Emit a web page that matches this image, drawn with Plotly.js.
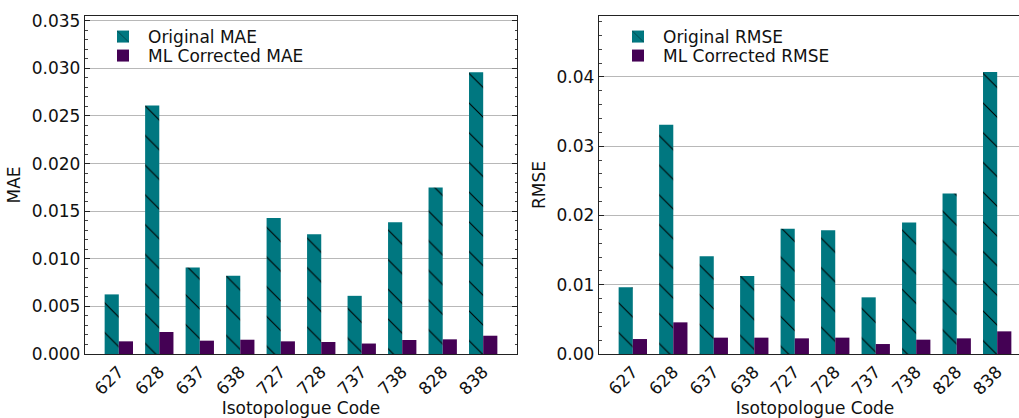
<!DOCTYPE html>
<html>
<head>
<meta charset="utf-8">
<script src="https://cdn.plot.ly/plotly-3.0.1.min.js"></script>
<style>html,body{margin:0;padding:0;overflow:hidden;background:#fff;}#chart{width:1040px;height:418px;}</style>
</head>
<body>
<div id="chart"></div>
<script>
const codes = ['627','628','637','638','727','728','737','738','828','838'];
const originalMAE  = [0.00626, 0.0261, 0.00909, 0.00821, 0.01429, 0.01258, 0.00611, 0.01384, 0.0175, 0.02958];
const correctedMAE = [0.00133, 0.00231, 0.00140, 0.00150, 0.00133, 0.00126, 0.00110, 0.00147, 0.00154, 0.00192];
const originalRMSE  = [0.00962, 0.03309, 0.0141, 0.01126, 0.01808, 0.01785, 0.00818, 0.0190, 0.02319, 0.0407];
const correctedRMSE = [0.00216, 0.00457, 0.00236, 0.00236, 0.00226, 0.00236, 0.00144, 0.00207, 0.00226, 0.00327];

const TEAL = '#007780', PURPLE = '#440154';
const FONT = 'DejaVu Sans, sans-serif';
const FS = 17;
const W = 1040, H = 418;
const hatch = {shape: '\\', fgcolor: '#000', bgcolor: TEAL, size: 21, solidity: 0.05, fillmode:'replace'};

const traces = [
  {type:'bar', x: codes, y: originalMAE, name:'Original MAE', xaxis:'x', yaxis:'y', legend:'legend',
   marker:{color:TEAL, pattern:hatch, line:{width:0}}},
  {type:'bar', x: codes, y: correctedMAE, name:'ML Corrected MAE', xaxis:'x', yaxis:'y', legend:'legend3',
   marker:{color:PURPLE, line:{width:0}}},
  {type:'bar', x: codes, y: originalRMSE, name:'Original RMSE', xaxis:'x2', yaxis:'y2', legend:'legend2',
   marker:{color:TEAL, pattern:hatch, line:{width:0}}},
  {type:'bar', x: codes, y: correctedRMSE, name:'ML Corrected RMSE', xaxis:'x2', yaxis:'y2', legend:'legend4',
   marker:{color:PURPLE, line:{width:0}}}
];

function xax(domain, anchor){
  return {domain: domain, anchor: anchor, type:'category', range:[-0.835, 9.835],
    showline:true, mirror:true, linecolor:'#222', linewidth:1.2, ticks:'', showgrid:false,
    tickangle:-45, tickfont:{family:FONT, size:FS, color:'#111'},
    title:{text:'Isotopologue Code', font:{family:FONT, size:FS, color:'#111'}, standoff:2},
    layer:'above traces', automargin:false};
}
function yax(domain, anchor, range, dtick, minor, fmt, title){
  return {domain: domain, anchor: anchor, range: range, dtick: dtick, tick0:0, tickformat: fmt,
    showline:true, mirror:'allticks', linecolor:'#222', linewidth:1.2,
    ticks:'inside', ticklen:5, tickcolor:'#222', tickwidth:1,
    minor:{dtick:minor, ticks:'inside', ticklen:2.5, tickcolor:'#444', showgrid:false},
    showgrid:true, gridcolor:'#b8b8b8', gridwidth:1, zeroline:false,
    tickfont:{family:FONT, size:FS, color:'#111'},
    title:{text:title, font:{family:FONT, size:FS, color:'#111'}, standoff:6},
    layer:'above traces', automargin:false};
}
function leg(xpx, toppx){
  return {x: xpx/W, y: (H-toppx)/H, xanchor:'left', yanchor:'top', bgcolor:'rgba(0,0,0,0)',
    font:{family:FONT, size:FS, color:'#111'}, itemwidth:40};
}
const yd = [(H-354)/H, (H-16)/H];
const layout = {
  width: W, height: H, margin:{l:0, r:0, t:0, b:0},
  paper_bgcolor:'#fff', plot_bgcolor:'#fff',
  barmode:'group', bargap:0.3, bargroupgap:0,
  font:{family:FONT, size:FS, color:'#111'},
  xaxis: xax([85/W, 517/W], 'y'),
  yaxis: yax(yd, 'x', [0, 0.0355], 0.005, 0.001, '.3f', 'MAE'),
  xaxis2: xax([599/W, 1031/W], 'y2'),
  yaxis2: yax(yd, 'x2', [0, 0.0488], 0.01, 0.002, '.2f', 'RMSE'),
  legend: leg(98, 19),
  legend3: leg(98, 38),
  legend2: leg(613, 19),
  legend4: leg(613, 38),
  showlegend:true
};
Plotly.newPlot('chart', traces, layout, {staticPlot:true});
</script>
</body>
</html>
